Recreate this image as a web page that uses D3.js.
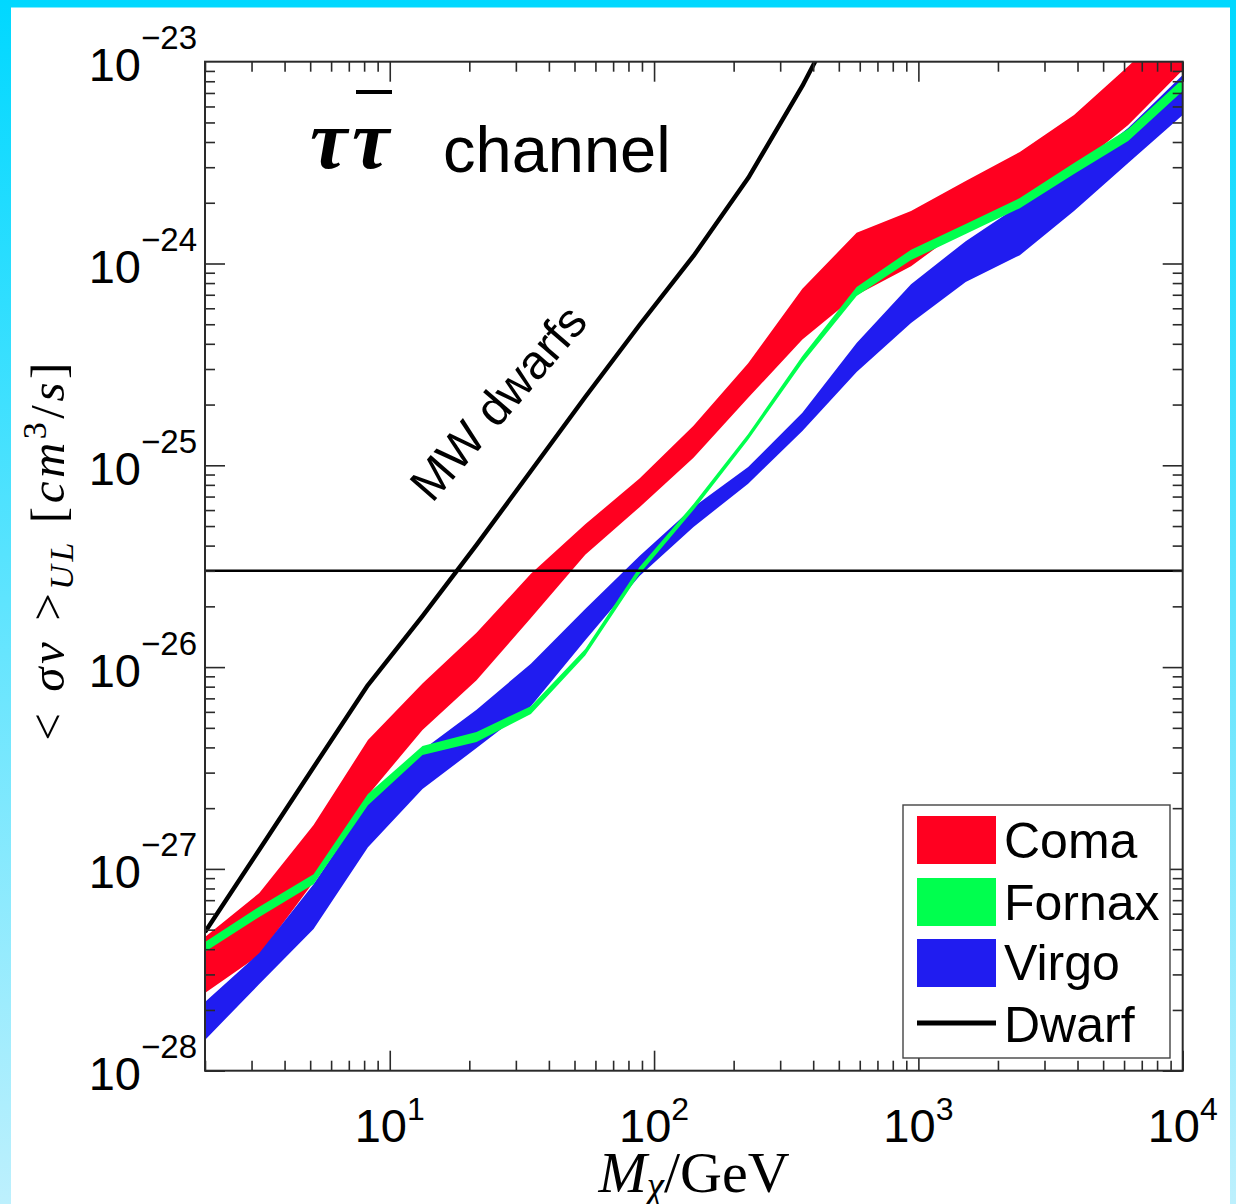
<!DOCTYPE html>
<html>
<head>
<meta charset="utf-8">
<script src="https://cdn.jsdelivr.net/npm/d3@7"></script>
<style>
  html, body { margin: 0; padding: 0; background: #fff; }
  svg { display: block; }
</style>
</head>
<body>
<svg id="chart" width="1236" height="1204"></svg>
<script>
// Dark-matter mass grid (GeV) shared by all cluster limits
const massGeV = [2, 3.21, 5.15, 8.27, 13.3, 21.3, 34.2, 54.9, 88.1, 141, 227, 364, 584, 938, 1510, 2420, 3880, 6220, 10000];

// Upper-limit bands on <sigma v> (cm^3/s), tau tau-bar channel
const comaUpper   = [4.6e-28, 7.6e-28, 1.65e-27, 4.35e-27, 8.3e-27, 1.48e-26, 2.9e-26, 5.1e-26, 8.6e-26, 1.57e-25, 3.2e-25, 7.5e-25, 1.42e-24, 1.82e-24, 2.56e-24, 3.57e-24, 5.44e-24, 9.5e-24, 1.69e-23];
const comaLower   = [2.43e-28, 3.74e-28, 8.6e-28, 2.32e-27, 4.88e-27, 8.6e-27, 1.75e-26, 3.6e-26, 6.2e-26, 1.09e-25, 2.16e-25, 4.2e-25, 6.98e-25, 9.7e-25, 1.53e-24, 2.02e-24, 2.94e-24, 4.86e-24, 9.1e-24];
const fornaxUpper = [4.34e-28, 6.5e-28, 9.4e-28, 2.35e-27, 4.06e-27, 4.77e-27, 6.4e-27, 1.23e-26, 3.13e-26, 6.43e-26, 1.43e-25, 3.48e-25, 7.65e-25, 1.17e-24, 1.57e-24, 2.11e-24, 3.15e-24, 4.64e-24, 8.2e-24];
const fornaxLower = [3.88e-28, 5.78e-28, 8.4e-28, 2.07e-27, 3.67e-27, 4.26e-27, 5.86e-27, 1.14e-26, 2.89e-26, 6.0e-26, 1.34e-25, 3.21e-25, 6.9e-25, 1.04e-24, 1.40e-24, 1.88e-24, 2.78e-24, 4.05e-24, 7.16e-24];
const virgoUpper  = [2.19e-28, 3.83e-28, 8.4e-28, 2.12e-27, 3.88e-27, 6.14e-27, 1.04e-26, 1.94e-26, 3.55e-26, 6.21e-26, 9.8e-26, 1.82e-25, 4.04e-25, 7.9e-25, 1.29e-24, 1.95e-24, 2.87e-24, 4.69e-24, 8.6e-24];
const virgoLower  = [1.42e-28, 2.69e-28, 5.04e-28, 1.28e-27, 2.49e-27, 3.97e-27, 6.4e-27, 1.36e-26, 2.83e-26, 4.95e-26, 8.1e-26, 1.48e-25, 2.9e-25, 5.07e-25, 8.1e-25, 1.10e-24, 1.82e-24, 3.15e-24, 5.44e-24];

// Milky Way dwarf spheroidal limit
const dwarfMass  = [2, 3.21, 5.15, 8.27, 13.3, 21.3, 34.2, 54.9, 88.1, 141, 227, 364, 584];
const dwarfLimit = [4.87e-28, 1.245e-27, 3.19e-27, 8.15e-27, 1.79e-26, 4.03e-26, 9.37e-26, 2.18e-25, 4.96e-25, 1.09e-24, 2.65e-24, 7.58e-24, 2.48e-23];

// Canonical thermal relic cross-section
const thermalRelic = 3e-26;

// Axis tick exponents
const xTickExponents = [1, 2, 3, 4];
const yTickExponents = [-28, -27, -26, -25, -24, -23];

const legendLabels = ["Coma", "Fornax", "Virgo", "Dwarf"];
const bandColors = { Coma: "#ff0020", Fornax: "#00ff4e", Virgo: "#201cf0" };

const W = 1236, H = 1204;
const plot = { left: 205, right: 1182.7, top: 61.7, bottom: 1070.7 };

const svg = d3.select("#chart");
const defs = svg.append("defs");

// Frame background
const grad = defs.append("linearGradient").attr("id", "frameFill")
  .attr("x1", 0).attr("y1", 0).attr("x2", 0).attr("y2", 1);
grad.append("stop").attr("offset", "0%").attr("stop-color", "#00d8ff");
grad.append("stop").attr("offset", "100%").attr("stop-color", "#bdf0fd");
svg.append("rect").attr("width", W).attr("height", H).attr("fill", "url(#frameFill)");
svg.append("rect").attr("x", 11).attr("y", 7.5).attr("width", 1219).attr("height", H).attr("fill", "#fff");

defs.append("clipPath").attr("id", "plotClip")
  .append("rect")
  .attr("x", plot.left).attr("y", plot.top)
  .attr("width", plot.right - plot.left).attr("height", plot.bottom - plot.top);

const x = d3.scaleLog().domain([2, 1e4]).range([plot.left, plot.right]);
const y = d3.scaleLog().domain([1e-28, 1e-23]).range([plot.bottom, plot.top]);

const data = svg.append("g").attr("clip-path", "url(#plotClip)");

const bandArea = d3.area()
  .x(d => x(d.m))
  .y0(d => y(d.lo))
  .y1(d => y(d.hi));

function bandRows(lo, hi) {
  return massGeV.map((m, i) => ({ m, lo: lo[i], hi: hi[i] }));
}

const bands = [
  { name: "Coma", lo: comaLower, hi: comaUpper },
  { name: "Virgo", lo: virgoLower, hi: virgoUpper },
  { name: "Fornax", lo: fornaxLower, hi: fornaxUpper }
];
bands.forEach(b => {
  data.append("path")
    .datum(bandRows(b.lo, b.hi))
    .attr("d", bandArea)
    .attr("fill", bandColors[b.name]);
});

// Thermal relic reference line
data.append("line")
  .attr("x1", plot.left).attr("x2", plot.right)
  .attr("y1", y(thermalRelic)).attr("y2", y(thermalRelic))
  .attr("stroke", "#000").attr("stroke-width", 2.6);

// Dwarf limit curve
const dwarfLine = d3.line().x(d => x(d[0])).y(d => y(d[1]));
data.append("path")
  .datum(dwarfMass.map((m, i) => [m, dwarfLimit[i]]))
  .attr("d", dwarfLine)
  .attr("fill", "none")
  .attr("stroke", "#000")
  .attr("stroke-width", 4.4)
  .attr("stroke-linejoin", "round");

// Axes: inward major and minor ticks on all four sides
const isDecade = v => Math.abs(Math.log10(v) - Math.round(Math.log10(v))) < 1e-6;
const xMajor = x.ticks().filter(isDecade);
const xMinor = x.ticks().filter(v => !isDecade(v));
const yMajor = y.ticks().filter(isDecade);
const yMinor = y.ticks().filter(v => !isDecade(v));

const axisColor = "#2a2a2a";
function styleAxis(g) {
  g.select(".domain").remove();
  g.selectAll("line").attr("stroke", axisColor).attr("stroke-width", 1.6);
  g.selectAll("text").remove();
}
const axes = svg.append("g");
[[xMajor, 20], [xMinor, 10]].forEach(([vals, len]) => {
  axes.append("g").attr("transform", `translate(0,${plot.bottom})`)
    .call(d3.axisBottom(x).tickValues(vals).tickSize(-len).tickFormat("")).call(styleAxis);
  axes.append("g").attr("transform", `translate(0,${plot.top})`)
    .call(d3.axisTop(x).tickValues(vals).tickSize(-len).tickFormat("")).call(styleAxis);
});
[[yMajor, 20], [yMinor, 10]].forEach(([vals, len]) => {
  axes.append("g").attr("transform", `translate(${plot.left},0)`)
    .call(d3.axisLeft(y).tickValues(vals).tickSize(-len).tickFormat("")).call(styleAxis);
  axes.append("g").attr("transform", `translate(${plot.right},0)`)
    .call(d3.axisRight(y).tickValues(vals).tickSize(-len).tickFormat("")).call(styleAxis);
});
axes.append("rect")
  .attr("x", plot.left).attr("y", plot.top)
  .attr("width", plot.right - plot.left).attr("height", plot.bottom - plot.top)
  .attr("fill", "none").attr("stroke", axisColor).attr("stroke-width", 2);

// Tick labels: 10 with superscript exponent
const sans = "'Liberation Sans', Arial, Helvetica, sans-serif";
const serif = "'Liberation Serif', 'Times New Roman', serif";
const labels = svg.append("g").attr("font-family", sans).attr("fill", "#000");

xTickExponents.forEach(e => {
  const t = labels.append("text")
    .attr("x", x(Math.pow(10, e))).attr("y", 1141.5)
    .attr("text-anchor", "middle").attr("font-size", 47);
  t.append("tspan").text("10");
  t.append("tspan").attr("font-size", 32).attr("dy", -22).text(String(e));
});
yTickExponents.forEach(e => {
  const t = labels.append("text")
    .attr("x", 197).attr("y", y(Math.pow(10, e)) + 19.5)
    .attr("text-anchor", "end").attr("font-size", 47);
  t.append("tspan").text("10");
  t.append("tspan").attr("font-size", 33).attr("dy", -32).text("\u2212" + String(-e));
});

// Axis titles
const yTitle = svg.append("text")
  .attr("transform", "translate(64,550) rotate(-90)")
  .attr("text-anchor", "middle")
  .attr("font-family", serif).attr("font-size", 49)
  .attr("letter-spacing", 3.5).attr("fill", "#000");
yTitle.append("tspan").text("<");
yTitle.append("tspan").attr("dx", 18).attr("font-style", "italic").text("\u03C3v");
yTitle.append("tspan").attr("dx", 18).text(">");
yTitle.append("tspan").attr("font-style", "italic").attr("font-size", 34).attr("dy", 9).text("UL");
yTitle.append("tspan").attr("dx", 16).attr("dy", -9).text("[");
yTitle.append("tspan").attr("font-style", "italic").text("cm");
yTitle.append("tspan").attr("font-size", 34).attr("dy", -18).text("3");
yTitle.append("tspan").attr("dy", 18).text("/");
yTitle.append("tspan").attr("font-style", "italic").text("s");
yTitle.append("tspan").text("]");

const xTitle = svg.append("text")
  .attr("x", 694).attr("y", 1192)
  .attr("text-anchor", "middle")
  .attr("font-family", serif).attr("font-size", 58).attr("fill", "#000");
xTitle.append("tspan").attr("font-style", "italic").text("M");
xTitle.append("tspan").attr("font-style", "italic").attr("font-size", 39).attr("dy", 7).text("\u03C7");
xTitle.append("tspan").attr("dy", -7).text("/GeV");

// Channel title
const tauFont = { family: serif, size: 84 };
const tau1 = svg.append("text").attr("x", 310).attr("y", 168)
  .attr("font-family", tauFont.family).attr("font-size", tauFont.size)
  .attr("font-weight", "bold").attr("font-style", "italic").text("\u03C4");
const tau1Box = tau1.node().getBBox();
const tau2 = svg.append("text").attr("x", tau1Box.x + tau1Box.width + 2).attr("y", 168)
  .attr("font-family", tauFont.family).attr("font-size", tauFont.size)
  .attr("font-weight", "bold").attr("font-style", "italic").text("\u03C4");
const tau2Box = tau2.node().getBBox();
svg.append("line")
  .attr("x1", tau2Box.x + 4).attr("x2", tau2Box.x + tau2Box.width)
  .attr("y1", 92).attr("y2", 92)
  .attr("stroke", "#000").attr("stroke-width", 4);
svg.append("text").attr("x", 443).attr("y", 172)
  .attr("font-family", sans).attr("font-size", 65).text("channel");

// Label along the dwarf curve
svg.append("text")
  .attr("transform", "translate(432,504) rotate(-49)")
  .attr("font-family", sans).attr("font-size", 48).text("MW dwarfs");

// Legend
const lg = svg.append("g").attr("font-family", sans).attr("font-size", 50);
lg.append("rect").attr("x", 903).attr("y", 805).attr("width", 267).attr("height", 253)
  .attr("fill", "#fff").attr("stroke", "#444").attr("stroke-width", 1.4);
const rowY = [816, 878, 939, 1000];
const baseY = [858, 920, 980, 1042];
legendLabels.forEach((name, i) => {
  if (bandColors[name]) {
    lg.append("rect").attr("x", 917).attr("y", rowY[i]).attr("width", 79).attr("height", 48)
      .attr("fill", bandColors[name]);
  } else {
    lg.append("line").attr("x1", 917).attr("x2", 996).attr("y1", 1023).attr("y2", 1023)
      .attr("stroke", "#000").attr("stroke-width", 5);
  }
  lg.append("text").attr("x", 1004).attr("y", baseY[i]).text(name);
});
</script>
</body>
</html>
